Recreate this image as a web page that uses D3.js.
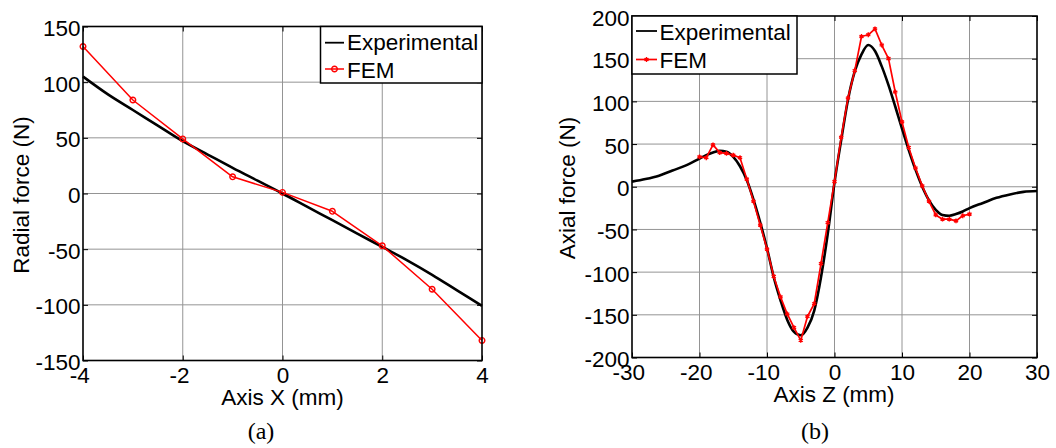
<!DOCTYPE html>
<html><head><meta charset="utf-8">
<script src="https://cdn.jsdelivr.net/npm/d3@7"></script>
<style>
html,body{margin:0;padding:0;background:#fff;}
svg{display:block;}
</style></head><body>
<svg id="chart" width="1056" height="448"></svg>
<script>
// ---------- Panel (a): radial force ----------
const radialFemX = [-4, -3, -2, -1, 0, 1, 2, 3, 4];
const radialFem  = [132, 84, 49, 15, 1, -16, -47, -86, -132];
const radialExpX = [-4, -3.5, -3, -2.5, -2, -1.5, -1, -0.5, 0, 0.5, 1, 1.5, 2, 2.5, 3, 3.5, 4];
const radialExp  = [105, 89, 75, 61, 47, 35, 23, 11.5, 0, -12, -24, -36, -48, -60, -73, -87, -101];
const radialXTicks = [-4, -2, 0, 2, 4];
const radialYTicks = [-150, -100, -50, 0, 50, 100, 150];

// ---------- Panel (b): axial force ----------
const axialFemZ = [-20,-19,-18,-17,-16,-15,-14,-13,-12,-11,-10,-9,-8,-7,-6,-5,-4,-3,-2,-1,0,
                   1,2,3,4,5,6,7,8,9,10,11,12,13,14,15,16,17,18,19,20];
const axialFem  = [35,34,49,40,39,37,34,9,-17,-45,-73,-105,-129,-149,-165,-180,-152,-137,-90,-42,6,
                   58,104,136,176,178,185,166,150,111,76,46,22,1,-17,-33,-38,-38,-40,-34,-32];
const axialExpZ = [-30,-28,-26,-24,-22,-20,-19,-18,-17,-16,-15,-14,-13,-12,-11,-10,-9,-8,-7,-6,-5,-4,-3,-2,-1,0,
                   1,2,3,4,5,6,7,8,9,10,11,12,13,14,15,16,17,18,19,20,22,24,26,28,30];
const axialExp  = [6,9,13,19,25,33,37,40,42,41,35,24,8,-15,-42,-72,-106,-133,-156,-170,-174,-165,-145,-106,-55,5,
                   55,102,135,155,166,159,141,119,94,68,43,20,0,-16,-27,-33,-34,-32,-29,-25,-19,-13,-9,-6,-5];
const axialXTicks = [-30, -20, -10, 0, 10, 20, 30];
const axialYTicks = [-200, -150, -100, -50, 0, 50, 100, 150, 200];

const seriesNames = ["Experimental", "FEM"];
const xLabels = ["Axis X (mm)", "Axis Z (mm)"];
const yLabels = ["Radial force (N)", "Axial force (N)"];
const captions = ["(a)", "(b)"];

const FONT = "'Liberation Sans', Arial, Helvetica, sans-serif";
const SERIF = "'Liberation Serif', 'Times New Roman', serif";
const FS = 22.5;

const svg = d3.select("#chart");

function drawPanel(cfg) {
  const g = svg.append("g");
  const x = d3.scaleLinear().domain(cfg.xDomain).range([cfg.left, cfg.right]);
  const y = d3.scaleLinear().domain(cfg.yDomain).range([cfg.bottom, cfg.top]);

  // grid
  const grid = g.append("g").attr("stroke", "#949494").attr("stroke-width", 1);
  grid.selectAll("line.vx").data(cfg.xTicks.slice(1, -1)).join("line")
    .attr("x1", d => x(d)).attr("x2", d => x(d))
    .attr("y1", cfg.top).attr("y2", cfg.bottom);
  grid.selectAll("line.hy").data(cfg.yTicks.slice(1, -1)).join("line")
    .attr("x1", cfg.left).attr("x2", cfg.right)
    .attr("y1", d => y(d)).attr("y2", d => y(d));

  const fmt = d => String(d);
  const styleAxis = sel => {
    sel.select(".domain").remove();
    sel.attr("font-family", FONT).attr("font-size", FS);
    sel.selectAll(".tick line").attr("stroke", "#000").attr("stroke-width", 1);
    sel.selectAll("text").attr("fill", "#000");
  };
  // bottom
  g.append("g").attr("transform", `translate(0,${cfg.bottom})`)
    .call(d3.axisBottom(x).tickValues(cfg.xTicks).tickSize(-5).tickPadding(6.5).tickFormat(fmt))
    .call(styleAxis)
    .call(s => s.selectAll("text").attr("dx", d => d < 0 ? -3.8 : 0));
  // top
  g.append("g").attr("transform", `translate(0,${cfg.top})`)
    .call(d3.axisTop(x).tickValues(cfg.xTicks).tickSize(-5).tickFormat(""))
    .call(styleAxis);
  // left
  g.append("g").attr("transform", `translate(${cfg.left},0)`)
    .call(d3.axisLeft(y).tickValues(cfg.yTicks).tickSize(-5).tickPadding(2.5).tickFormat(fmt))
    .call(styleAxis)
    .call(s => s.selectAll("text").attr("dy", "0.4em"));
  // right
  g.append("g").attr("transform", `translate(${cfg.right},0)`)
    .call(d3.axisRight(y).tickValues(cfg.yTicks).tickSize(-5).tickFormat(""))
    .call(styleAxis);

  // data
  const lineExp = d3.line().x(d => x(d[0])).y(d => y(d[1])).curve(d3.curveMonotoneX);
  const lineFem = d3.line().x(d => x(d[0])).y(d => y(d[1]));
  const expData = cfg.expX.map((v, i) => [v, cfg.exp[i]]);
  const femData = cfg.femX.map((v, i) => [v, cfg.fem[i]]);

  g.append("path").datum(expData).attr("d", lineExp)
    .attr("fill", "none").attr("stroke", "#000").attr("stroke-width", 2.6).attr("stroke-linejoin", "round");
  g.append("path").datum(femData).attr("d", lineFem)
    .attr("fill", "none").attr("stroke", "#ff0000").attr("stroke-width", cfg.femWidth).attr("stroke-linejoin", "round");

  const marker = (sel) => {
    if (cfg.markerType === "circle") {
      sel.append("circle").attr("r", 2.8).attr("fill", "none")
        .attr("stroke", "#ff0000").attr("stroke-width", 1.4);
    } else {
      sel.append("path").attr("d", d3.symbol(d3.symbolAsterisk, 16)())
        .attr("fill", "none").attr("stroke", "#ff0000").attr("stroke-width", 1.4);
    }
  };
  g.append("g").selectAll("g").data(femData).join("g")
    .attr("transform", d => `translate(${x(d[0])},${y(d[1])})`)
    .call(marker);

  // box
  g.append("rect").attr("x", cfg.left).attr("y", cfg.top)
    .attr("width", cfg.right - cfg.left).attr("height", cfg.bottom - cfg.top)
    .attr("fill", "none").attr("stroke", "#000").attr("stroke-width", 1.6);

  // legend
  const L = cfg.legend;
  const lg = g.append("g").attr("transform", `translate(${L.x},${L.y})`);
  lg.append("rect").attr("width", L.w).attr("height", L.h)
    .attr("fill", "#fff").attr("stroke", "#000").attr("stroke-width", 1.5);
  seriesNames.forEach((name, i) => {
    const ly = L.lineY[i];
    lg.append("line").attr("x1", L.sx).attr("x2", L.sx + L.sw).attr("y1", ly).attr("y2", ly)
      .attr("stroke", i === 0 ? "#000" : "#ff0000").attr("stroke-width", i === 0 ? 1.8 : cfg.femWidth);
    if (i === 1) {
      lg.append("g").attr("transform", `translate(${L.sx + L.sw / 2},${ly})`).call(marker);
    }
    lg.append("text").attr("x", L.tx).attr("y", L.textY[i])
      .attr("font-family", FONT).attr("font-size", FS).attr("fill", "#000").text(name);
  });

  // axis labels
  g.append("text").attr("x", cfg.xLabelX).attr("y", cfg.xLabelY)
    .attr("text-anchor", "middle").attr("font-family", FONT).attr("font-size", FS)
    .attr("fill", "#000").text(cfg.xLabel);
  g.append("text").attr("transform", `translate(${cfg.yLabelX},${cfg.yLabelY}) rotate(-90)`)
    .attr("text-anchor", "middle").attr("font-family", FONT).attr("font-size", FS)
    .attr("fill", "#000").text(cfg.yLabel);
  g.append("text").attr("x", cfg.capX).attr("y", cfg.capY)
    .attr("text-anchor", "middle").attr("font-family", SERIF).attr("font-size", 24)
    .attr("fill", "#000").text(cfg.caption);
}

drawPanel({
  left: 83, right: 482, top: 26.5, bottom: 360.5,
  xDomain: [-4, 4], yDomain: [-150, 150],
  xTicks: radialXTicks, yTicks: radialYTicks,
  expX: radialExpX, exp: radialExp, femX: radialFemX, fem: radialFem,
  femWidth: 1.5, markerType: "circle",
  legend: { x: 320.5, y: 26.5, w: 161.5, h: 56.5, sx: 4.5, sw: 19, tx: 26.5,
            lineY: [16.2, 42.5], textY: [23.8, 51.5] },
  xLabel: xLabels[0], xLabelX: 282.5, xLabelY: 405,
  yLabel: yLabels[0], yLabelX: 28.5, yLabelY: 195,
  caption: captions[0], capX: 261, capY: 439
});

drawPanel({
  left: 632, right: 1037, top: 16, bottom: 357.5,
  xDomain: [-30, 30], yDomain: [-200, 200],
  xTicks: axialXTicks, yTicks: axialYTicks,
  expX: axialExpZ, exp: axialExp, femX: axialFemZ, fem: axialFem,
  femWidth: 1.7, markerType: "star",
  legend: { x: 632, y: 16, w: 165, h: 58, sx: 4, sw: 21, tx: 27.5,
            lineY: [15, 43.5], textY: [24, 52] },
  xLabel: xLabels[1], xLabelX: 834, xLabelY: 402,
  yLabel: yLabels[1], yLabelX: 575, yLabelY: 188,
  caption: captions[1], capX: 815, capY: 439
});
</script>
</body></html>
